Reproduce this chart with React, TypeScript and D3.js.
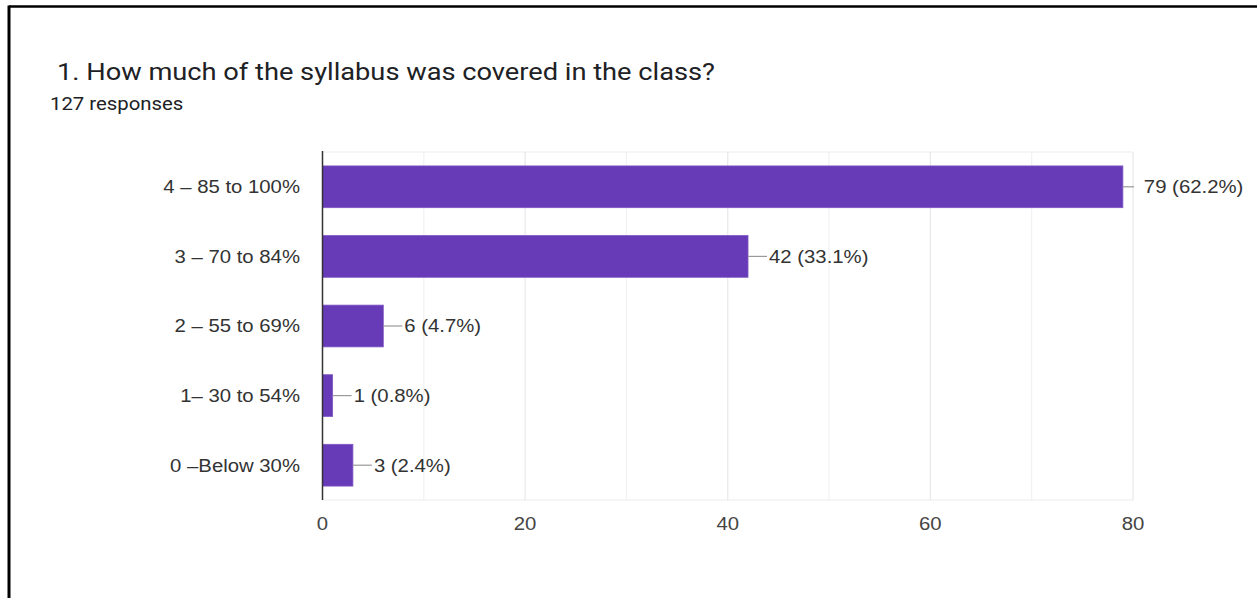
import React from "react";
import * as d3 from "d3";

const categories = ["4 – 85 to 100%", "3 – 70 to 84%", "2 – 55 to 69%", "1– 30 to 54%", "0 –Below 30%"];
const counts = [79, 42, 6, 1, 3];
const percents = ["62.2%", "33.1%", "4.7%", "0.8%", "2.4%"];
const majorTicks = [0, 20, 40, 60, 80];
const minorTicks = [10, 30, 50, 70];
const title = "1. How much of the syllabus was covered in the class?";
const subtitle = "127 responses";

const W = 1257;
const H = 598;
const plot = { left: 322.5, right: 1133, top: 152, bottom: 500 };
const PURPLE = "#673ab7";
const ARIAL = "Arial, 'Liberation Sans', sans-serif";
const SX = 1.13; // horizontal stretch of the screenshot text

function T({ x, y, anchor = "start", sx = SX, size = 18, family = ARIAL, fill = "#333", dy = "0.36em", children }: any) {
  return (
    <text
      transform={`translate(${x},${y}) scale(${sx},1)`}
      textAnchor={anchor}
      dy={dy}
      fontFamily={family}
      fontSize={size}
      fill={fill}
    >
      {children}
    </text>
  );
}

export default function App() {
  const x = d3.scaleLinear().domain([0, 80]).range([plot.left, plot.right]);
  const y = d3
    .scaleBand<string>()
    .domain(categories)
    .range([plot.top, plot.bottom])
    .paddingInner(0.4)
    .paddingOuter(0.2);

  return (
    <div style={{ position: "fixed", left: 0, top: 0, width: W, height: H, background: "#fff" }}>
      <svg width={W} height={H} style={{ display: "block" }}>
        <rect x={0} y={0} width={W} height={H} fill="#fff" />
        {/* frame */}
        <line x1={9} y1={6.5} x2={W} y2={6.5} stroke="#000" strokeWidth={2.5} />
        <line x1={9} y1={5.5} x2={9} y2={H} stroke="#000" strokeWidth={3} />

        <T x={57} y={80} dy={0} sx={1.135} size={24} family="Roboto, sans-serif" fill="#202124">
          {title}
        </T>
        <T x={50} y={110} dy={0} sx={1.13} size={18} family="Roboto, sans-serif" fill="#202124">
          {subtitle}
        </T>

        {/* grid */}
        <line x1={plot.left} x2={plot.right} y1={plot.top} y2={plot.top} stroke="#ebebeb" strokeWidth={1.2} />
        <line x1={plot.left} x2={plot.right} y1={plot.bottom} y2={plot.bottom} stroke="#ebebeb" strokeWidth={1.2} />
        {minorTicks.map((t) => (
          <line key={"m" + t} x1={x(t)} x2={x(t)} y1={plot.top} y2={plot.bottom} stroke="#f1f1f1" strokeWidth={1.2} />
        ))}
        {majorTicks.filter((t) => t > 0).map((t) => (
          <line key={"g" + t} x1={x(t)} x2={x(t)} y1={plot.top} y2={plot.bottom} stroke="#e8e8e8" strokeWidth={1.2} />
        ))}
        {majorTicks.map((t) => (
          <T key={"t" + t} x={x(t)} y={524} anchor="middle" fill="#444">
            {t}
          </T>
        ))}

        {/* bars */}
        {categories.map((c, i) => {
          const yc = (y(c) as number) + y.bandwidth() / 2;
          const xe = x(counts[i]);
          const lineEnd = Math.min(xe + 19, plot.right + 1);
          return (
            <g key={c}>
              <rect x={x(0)} y={y(c)} width={xe - x(0)} height={y.bandwidth()} fill={PURPLE} stroke="#7e57c2" strokeWidth={0.8} />
              <line x1={xe} x2={lineEnd} y1={yc} y2={yc} stroke="#999" strokeWidth={1.2} />
              <T x={xe + 21} y={yc}>{`${counts[i]} (${percents[i]})`}</T>
              <T x={300} y={yc} anchor="end">{c}</T>
            </g>
          );
        })}

        <line x1={plot.left} x2={plot.left} y1={plot.top - 1} y2={plot.bottom} stroke="#333" strokeWidth={1.5} />
      </svg>
    </div>
  );
}
